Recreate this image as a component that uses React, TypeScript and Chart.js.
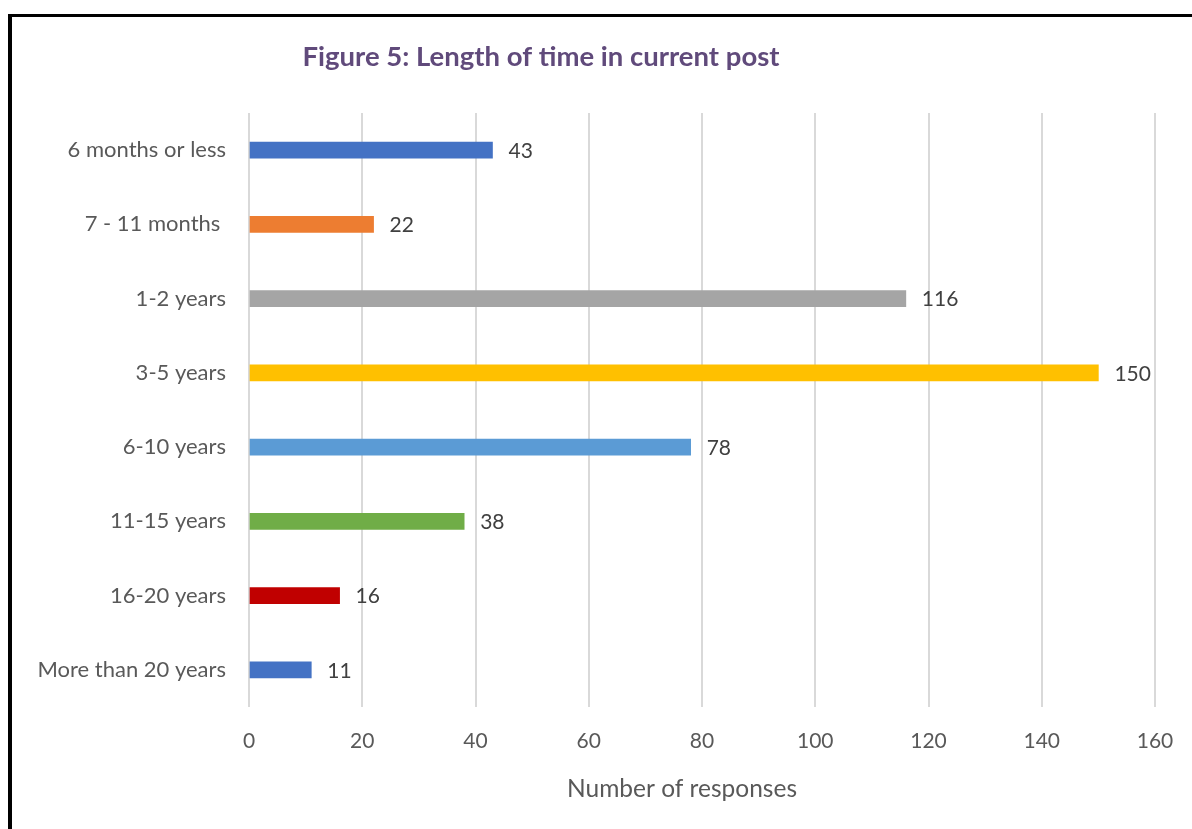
import React, { useEffect, useRef } from "react";
import { Chart, registerables } from "chart.js";

Chart.register(...registerables);

const categories = [
  "6 months or less",
  "7 - 11 months ",
  "1-2 years",
  "3-5 years",
  "6-10 years",
  "11-15 years",
  "16-20 years",
  "More than 20 years",
];
const responses = [43, 22, 116, 150, 78, 38, 16, 11];
const barColors = [
  "#4472C4",
  "#ED7D31",
  "#A5A5A5",
  "#FFC000",
  "#5B9BD5",
  "#70AD47",
  "#C00000",
  "#4472C4",
];
const xTicks = [0, 20, 40, 60, 80, 100, 120, 140, 160];
const chartTitle = "Figure 5: Length of time in current post";
const xAxisTitle = "Number of responses";

const FONT = "Lato";

export default function App() {
  const canvasRef = useRef<HTMLCanvasElement | null>(null);

  useEffect(() => {
    document.body.style.margin = "0";
    document.body.style.overflow = "hidden";
    const canvas = canvasRef.current;
    if (!canvas) return;

    const textPlugin = {
      id: "textPlugin",
      afterDraw(chart: any) {
        const ctx = chart.ctx;
        const area = chart.chartArea;
        ctx.save();
        ctx.font = `bold 27.5px ${FONT}`;
        ctx.fillStyle = "#604A7B";
        ctx.textAlign = "center";
        ctx.textBaseline = "middle";
        ctx.fillText(chartTitle, 529, 40);
        ctx.font = `24.5px ${FONT}`;
        ctx.fillStyle = "#595959";
        ctx.fillText(xAxisTitle, area.left + (area.right - area.left) / 2 - 20, area.bottom + 82);
        const meta = chart.getDatasetMeta(0);
        ctx.font = `21px ${FONT}`;
        ctx.fillStyle = "#404040";
        ctx.textAlign = "left";
        meta.data.forEach((bar: any, i: number) => {
          ctx.fillText(String(responses[i]), bar.x + 16, bar.y + 1);
        });
        ctx.restore();
      },
    };

    const chart = new Chart(canvas, {
      type: "bar",
      data: {
        labels: categories,
        datasets: [
          {
            data: responses,
            backgroundColor: barColors,
            barThickness: 16,
          },
        ],
      },
      options: {
        indexAxis: "y",
        animation: false,
        responsive: false,
        maintainAspectRatio: false,
        layout: { padding: { top: 96, right: 37, left: 0, bottom: 0 } },
        plugins: {
          legend: { display: false },
          title: { display: false },
          tooltip: { enabled: false },
        },
        scales: {
          x: {
            min: 0,
            max: 160,
            afterBuildTicks(axis: any) {
              axis.ticks = xTicks.map((v) => ({ value: v }));
            },
            grid: {
              color: "#D9D9D9",
              lineWidth: 2,
              drawTicks: false,
            },
            border: { display: false },
            ticks: {
              color: "#595959",
              font: { family: FONT, size: 21 },
              padding: 22,
            },
            afterFit(axis: any) {
              axis.height = 122;
              axis.paddingLeft = 0;
              axis.paddingRight = 0;
            },
          },
          y: {
            grid: { display: false, drawTicks: false },
            border: { display: false },
            ticks: {
              color: "#595959",
              font: { family: FONT, size: 22 },
              padding: 23,
            },
            afterFit(axis: any) {
              axis.width = 237;
            },
          },
        },
      },
      plugins: [textPlugin],
    });
    return () => chart.destroy();
  }, []);

  return (
    <div
      style={{
        position: "absolute",
        left: 8,
        top: 14,
        width: 1180,
        height: 812,
        borderLeft: "4px solid #000",
        borderTop: "3px solid #000",
        background: "#fff",
      }}
    >
      <canvas ref={canvasRef} width={1180} height={812} style={{ display: "block" }} />
    </div>
  );
}
